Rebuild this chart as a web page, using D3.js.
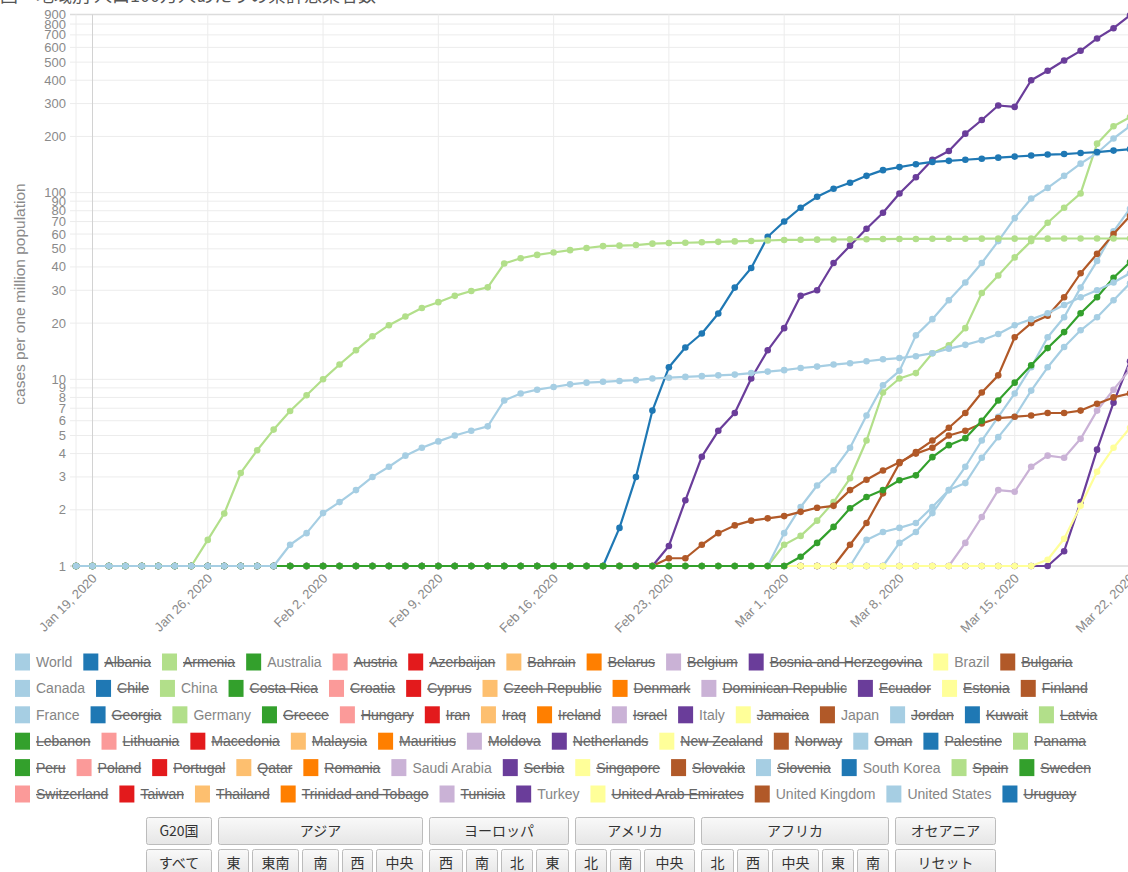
<!DOCTYPE html>
<html>
<head>
<meta charset="utf-8">
<script src="https://cdn.jsdelivr.net/npm/d3@7"></script>
<style>
body { margin: 0; background: #fff; }
svg { display: block; font-family: Arial, "Liberation Sans", sans-serif; }
</style>
</head>
<body>
<svg width="1128" height="872"></svg>
<script>
/** chart data (cases per one million population, Jan 18 - Mar 22, 2020) */
const titleText = "国・地域別 人口100万人あたりの累計感染者数";
const yTitle = "cases per one million population";
const firstDay = new Date(2020, 0, 18);
const lastDay = new Date(2020, 2, 22);
const xTickLabels = ["Jan 19, 2020", "Jan 26, 2020", "Feb 2, 2020", "Feb 9, 2020", "Feb 16, 2020",
  "Feb 23, 2020", "Mar 1, 2020", "Mar 8, 2020", "Mar 15, 2020", "Mar 22, 2020"];
const yTicks = [1, 2, 3, 4, 5, 6, 7, 8, 9, 10, 20, 30, 40, 50, 60, 70, 80, 90,
  100, 200, 300, 400, 500, 600, 700, 800, 900];

// legend entries, in the order of the page
const countries = ["World", "Albania", "Armenia", "Australia", "Austria", "Azerbaijan", "Bahrain", "Belarus",
  "Belgium", "Bosnia and Herzegovina", "Brazil", "Bulgaria", "Canada", "Chile", "China", "Costa Rica",
  "Croatia", "Cyprus", "Czech Republic", "Denmark", "Dominican Republic", "Ecuador", "Estonia", "Finland",
  "France", "Georgia", "Germany", "Greece", "Hungary", "Iran", "Iraq", "Ireland", "Israel", "Italy",
  "Jamaica", "Japan", "Jordan", "Kuwait", "Latvia", "Lebanon", "Lithuania", "Macedonia", "Malaysia",
  "Mauritius", "Moldova", "Netherlands", "New Zealand", "Norway", "Oman", "Palestine", "Panama", "Peru",
  "Poland", "Portugal", "Qatar", "Romania", "Saudi Arabia", "Serbia", "Singapore", "Slovakia", "Slovenia",
  "South Korea", "Spain", "Sweden", "Switzerland", "Taiwan", "Thailand", "Trinidad and Tobago", "Tunisia",
  "Turkey", "United Arab Emirates", "United Kingdom", "United States", "Uruguay"];
const shown = ["World", "Australia", "Brazil", "Canada", "China", "France", "Germany", "Italy", "Japan",
  "Saudi Arabia", "South Korea", "Turkey", "United Kingdom", "United States"];

// one value per day, Jan 18 .. Mar 22 (65 days); values below 1 sit on the 1 line
const worldVals = [1,1,1,1,1,1,1,1,1,1, 1,1,1,1.3,1.5,1.92,2.2,2.55,3.0,3.4,
  3.9,4.3,4.65,5.0,5.3,5.6,7.7,8.4,8.8,9.1, 9.4,9.6,9.7,9.8,9.9,10.1,10.2,10.3,10.4,10.5,
  10.6,10.8,11.0,11.2,11.5,11.7,12.0,12.2,12.5,12.8, 13.0,13.3,13.8,14.6,15.3,16.2,17.5,19.5,21,22.6,
  25,27.5,30,33,37];
const australiaVals = [1,1,1,1,1,1,1,1,1,1, 1,1,1,1,1,1,1,1,1,1,
  1,1,1,1,1,1,1,1,1,1, 1,1,1,1,1,1,1,1,1,1,
  1,1,1,1,1.12,1.33,1.62,2.04,2.34,2.55, 2.88,3.06,3.83,4.44,4.84,6.0,7.7,9.6,11.9,14.7,
  17.9,22.6,27.5,35,42.5];
const brazilVals = [1,1,1,1,1,1,1,1,1,1, 1,1,1,1,1,1,1,1,1,1,
  1,1,1,1,1,1,1,1,1,1, 1,1,1,1,1,1,1,1,1,1,
  1,1,1,1,1,1,1,1,1,1, 1,1,1,1,1,1,1,1,1,1.08,
  1.4,2.1,3.2,4.3,5.5];
const canadaVals = [1,1,1,1,1,1,1,1,1,1, 1,1,1,1,1,1,1,1,1,1,
  1,1,1,1,1,1,1,1,1,1, 1,1,1,1,1,1,1,1,1,1,
  1,1,1,1,1,1,1,1,1.38,1.52, 1.6,1.7,2.07,2.55,2.78,3.8,4.9,6.3,8.7,11.6,
  14.9,18.3,21.5,26.5,32.7];
const chinaVals = [1,1,1,1,1,1,1,1,1.38,1.91, 3.15,4.17,5.38,6.76,8.22,10.0,12.0,14.3,17.0,19.5,
  21.7,24.1,25.9,28.0,29.7,31.1,41.7,44.5,46.4,47.8, 49.2,50.5,51.7,52.0,52.4,53.3,53.7,53.9,54.2,54.5,
  54.8,55.1,55.4,55.8,55.9,56.0,56.1,56.2,56.3,56.4, 56.5,56.5,56.6,56.6,56.6,56.7,56.7,56.7,56.7,56.7,
  56.8,56.8,56.8,56.8,56.8];
const franceVals = [1,1,1,1,1,1,1,1,1,1, 1,1,1,1,1,1,1,1,1,1,
  1,1,1,1,1,1,1,1,1,1, 1,1,1,1,1,1,1,1,1,1,
  1,1,1,1.5,2.07,2.7,3.26,4.3,6.4,9.3, 11.1,17.2,21,26.5,33,42,55,73,93,106,
  123,143,163,195,227];
const germanyVals = [1,1,1,1,1,1,1,1,1,1, 1,1,1,1,1,1,1,1,1,1,
  1,1,1,1,1,1,1,1,1,1, 1,1,1,1,1,1,1,1,1,1,
  1,1,1,1.3,1.45,1.75,2.2,2.95,4.7,8.5, 10.1,10.8,13.8,15.2,18.8,29,36,45,55,69,
  83,99,183,227,254];
const italyVals = [1,1,1,1,1,1,1,1,1,1, 1,1,1,1,1,1,1,1,1,1,
  1,1,1,1,1,1,1,1,1,1, 1,1,1,1,1,1,1.28,2.25,3.85,5.3,
  6.6,10.1,14.3,18.8,28,30,42,52,64,78, 99,121,150,167,207,245,293,288,400,450,
  510,575,670,760,890];
const japanVals = [1,1,1,1,1,1,1,1,1,1, 1,1,1,1,1,1,1,1,1,1,
  1,1,1,1,1,1,1,1,1,1, 1,1,1,1,1,1,1.1,1.1,1.3,1.5,
  1.65,1.75,1.8,1.85,1.95,2.05,2.1,2.55,2.9,3.25, 3.6,4.0,4.3,5.0,5.3,5.8,6.2,6.3,6.4,6.6,
  6.6,6.8,7.4,8.0,8.4];
const saudiVals = [1,1,1,1,1,1,1,1,1,1, 1,1,1,1,1,1,1,1,1,1,
  1,1,1,1,1,1,1,1,1,1, 1,1,1,1,1,1,1,1,1,1,
  1,1,1,1,1,1,1,1,1,1, 1,1,1,1,1.33,1.83,2.55,2.5,3.4,3.9,
  3.8,4.8,6.8,8.8,11.3];
const koreaVals = [1,1,1,1,1,1,1,1,1,1, 1,1,1,1,1,1,1,1,1,1,
  1,1,1,1,1,1,1,1,1,1, 1,1,1,1.6,3.0,6.8,11.6,14.8,17.6,22.5,
  31,39.5,58,70,83,95,105,113,123,132, 137,142,146,148,150,152,154,156,158,160,
  161,163,165,168,171];
const turkeyVals = [1,1,1,1,1,1,1,1,1,1, 1,1,1,1,1,1,1,1,1,1,
  1,1,1,1,1,1,1,1,1,1, 1,1,1,1,1,1,1,1,1,1,
  1,1,1,1,1,1,1,1,1,1, 1,1,1,1,1,1,1,1,1,1,
  1.2,2.2,4.2,7.5,12.5];
const ukVals = [1,1,1,1,1,1,1,1,1,1, 1,1,1,1,1,1,1,1,1,1,
  1,1,1,1,1,1,1,1,1,1, 1,1,1,1,1,1,1,1,1,1,
  1,1,1,1,1,1,1,1.3,1.7,2.45, 3.55,4.08,4.7,5.5,6.6,8.5,10.5,16.8,20,21.9,
  27.5,37,47,60,75];
const usVals = [1,1,1,1,1,1,1,1,1,1, 1,1,1,1,1,1,1,1,1,1,
  1,1,1,1,1,1,1,1,1,1, 1,1,1,1,1,1,1,1,1,1,
  1,1,1,1,1,1,1,1,1,1, 1.33,1.52,1.92,2.55,3.4,4.7,6.3,8.4,11.6,16.8,
  21.5,31,43,62,82];

// buttons under the legend
const buttonGroups = ["G20国", "アジア", "ヨーロッパ", "アメリカ", "アフリカ", "オセアニア"];
const buttonSubs = [["すべて"], ["東", "東南", "南", "西", "中央"], ["西", "南", "北", "東"],
  ["北", "南", "中央"], ["北", "西", "中央", "東", "南"], ["リセット"]];

/** table the drawing uses, bottom series first */
var seriesTable = [
  { name: "Turkey", values: turkeyVals },
  { name: "Saudi Arabia", values: saudiVals },
  { name: "Canada", values: canadaVals },
  { name: "United States", values: usVals },
  { name: "United Kingdom", values: ukVals },
  { name: "Germany", values: germanyVals },
  { name: "France", values: franceVals },
  { name: "Japan", values: japanVals },
  { name: "Italy", values: italyVals },
  { name: "South Korea", values: koreaVals },
  { name: "China", values: chinaVals },
  { name: "Brazil", values: brazilVals },
  { name: "Australia", values: australiaVals },
  { name: "World", values: worldVals }
];

function colorOf(name) {
  return d3.schemePaired[countries.indexOf(name) % 12];
}

var svg = d3.select("svg");
var days = d3.timeDay.range(firstDay, d3.timeDay.offset(lastDay, 1));

var x = d3.scaleTime()
  .domain([new Date(2020, 0, 19), lastDay])
  .range([92.5, 1130]);
var y = d3.scaleLog()
  .domain([1, 900])
  .range([566, 14.5]);

// cut-off title at the very top
svg.append("text")
  .attr("x", 0).attr("y", 1.5)
  .attr("font-family", "'Noto Sans CJK JP', sans-serif")
  .attr("font-size", 18).attr("fill", "#555")
  .text(titleText);

/** grid */
var grid = svg.append("g");
grid.selectAll("line.h")
  .data(yTicks)
  .enter().append("line")
  .attr("x1", 70).attr("x2", 1128)
  .attr("y1", function(d) { return y(d); })
  .attr("y2", function(d) { return y(d); })
  .attr("stroke", function(d) { return d === 1 ? "#c8c8c8" : (d === 900 ? "#dcdcdc" : "#ececec"); })
  .attr("stroke-width", function(d) { return d === 900 ? 1.5 : 1; });

var weekTicks = d3.timeWeek.range(new Date(2020, 0, 19), d3.timeDay.offset(lastDay, 1));
grid.append("line")
  .attr("x1", x(firstDay)).attr("x2", x(firstDay))
  .attr("y1", y(900)).attr("y2", y(1))
  .attr("stroke", "#ececec");
grid.selectAll("line.v")
  .data(weekTicks)
  .enter().append("line")
  .attr("x1", function(d) { return x(d); })
  .attr("x2", function(d) { return x(d); })
  .attr("y1", y(900)).attr("y2", y(1))
  .attr("stroke", function(d, i) { return i === 0 ? "#d2d2d2" : "#ececec"; });

/** axes labels */
svg.append("g").selectAll("text")
  .data(yTicks)
  .enter().append("text")
  .attr("x", 66)
  .attr("y", function(d) { return y(d) + 4.5; })
  .attr("text-anchor", "end")
  .attr("font-size", 13)
  .attr("fill", "#8a8a8a")
  .text(function(d) { return d; });

svg.append("g").selectAll("text")
  .data(weekTicks)
  .enter().append("text")
  .attr("transform", function(d) { return "translate(" + (x(d) + 2) + ",576) rotate(-45)"; })
  .attr("dy", "0.35em")
  .attr("text-anchor", "end")
  .attr("font-size", 13)
  .attr("fill", "#8a8a8a")
  .text(function(d, i) { return xTickLabels[i]; });

svg.append("text")
  .attr("transform", "translate(25,294) rotate(-90)")
  .attr("text-anchor", "middle")
  .attr("font-size", 15.5)
  .attr("fill", "#8a8a8a")
  .text(yTitle);

/** lines + points */
var line = d3.line()
  .x(function(d, i) { return x(days[i]); })
  .y(function(d) { return y(d); });

var plot = svg.append("g");
seriesTable.forEach(function(s) {
  var c = colorOf(s.name);
  plot.append("path")
    .datum(s.values)
    .attr("fill", "none")
    .attr("stroke", c)
    .attr("stroke-width", 2.2)
    .attr("stroke-linejoin", "round")
    .attr("d", line);
  plot.selectAll(null)
    .data(s.values)
    .enter().append("circle")
    .attr("cx", function(d, i) { return x(days[i]); })
    .attr("cy", function(d) { return y(d); })
    .attr("r", 3.3)
    .attr("fill", c);
});

/** legend, flowing in rows */
var legend = svg.append("g").attr("font-size", 14);
var lx = 15, row = 0;
countries.forEach(function(name, i) {
  var on = shown.indexOf(name) >= 0;
  var item = legend.append("g");
  var t = item.append("text")
    .attr("x", 21)
    .attr("fill", on ? "#858585" : "#666")
    .style("text-decoration", on ? "none" : "line-through")
    .text(name);
  var w = 21 + t.node().getComputedTextLength();
  if (lx + w > 1120) { lx = 15; row++; }
  var cy = 662 + row * 26.4;
  t.attr("y", 5);
  item.insert("rect", "text")
    .attr("x", 0).attr("y", -8.5)
    .attr("width", 15).attr("height", 17)
    .attr("fill", d3.schemePaired[i % 12]);
  item.attr("transform", "translate(" + lx + "," + cy + ")");
  lx += w + 11;
});

/** buttons */
var defs = svg.append("defs");
var grad = defs.append("linearGradient").attr("id", "btn").attr("x1", 0).attr("x2", 0).attr("y1", 0).attr("y2", 1);
grad.append("stop").attr("offset", "0%").attr("stop-color", "#f9f9f9");
grad.append("stop").attr("offset", "100%").attr("stop-color", "#e6e6e6");

var subWidths = [[66], [31, 47, 37, 31, 47], [34, 32, 32, 33], [32, 31, 51], [33, 32, 47, 32, 32], [101]];
var buttons = svg.append("g")
  .attr("font-family", "'Noto Sans CJK JP', sans-serif")
  .attr("font-size", 14)
  .attr("fill", "#333");

function button(bx, by, bw, label) {
  buttons.append("rect")
    .attr("x", bx + 0.5).attr("y", by + 0.5)
    .attr("width", bw - 1).attr("height", 27)
    .attr("rx", 2)
    .attr("fill", "url(#btn)")
    .attr("stroke", "#bcbcbc");
  buttons.append("text")
    .attr("x", bx + bw / 2).attr("y", by + 19)
    .attr("text-anchor", "middle")
    .text(label);
}

var gx = 146;
buttonGroups.forEach(function(g, gi) {
  var widths = subWidths[gi];
  var sx = gx;
  buttonSubs[gi].forEach(function(s, si) {
    button(sx, 849, widths[si], s);
    sx += widths[si] + 3;
  });
  var gw = sx - 3 - gx;
  button(gx, 817, gw, g);
  gx += gw + 6;
});
</script>
</body>
</html>
